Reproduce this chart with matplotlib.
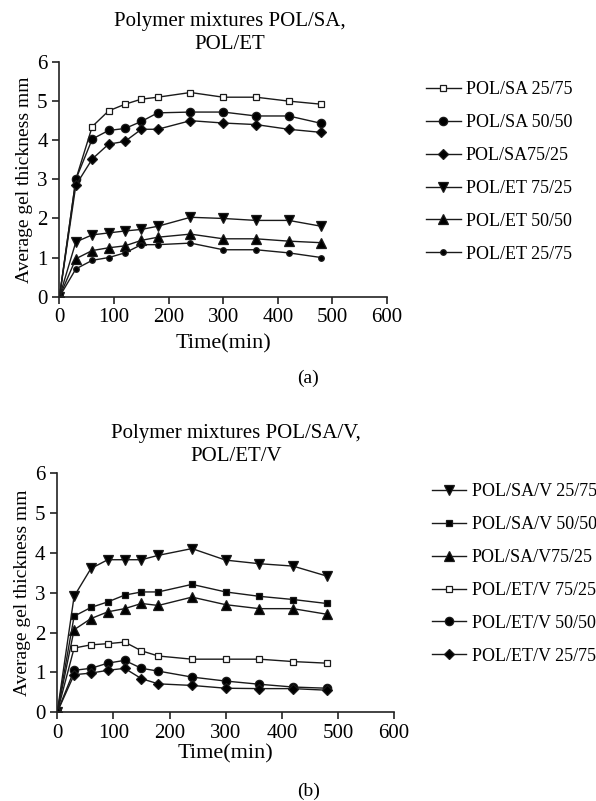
import matplotlib
matplotlib.use("Agg")
import matplotlib.pyplot as plt

plt.rcParams['font.family'] = ['Liberation Serif', 'DejaVu Serif']

time = [0, 30, 60, 90, 120, 150, 180, 240, 300, 360, 420, 480]

# (a) POL/SA, POL/ET
labels_a = ["POL/SA 25/75", "POL/SA 50/50", "POL/SA75/25",
            "POL/ET 75/25", "POL/ET 50/50", "POL/ET 25/75"]
sa_25_75 = [0, 3.0, 4.35, 4.75, 4.92, 5.05, 5.1, 5.22, 5.1, 5.1, 5.0, 4.92]
sa_50_50 = [0, 3.0, 4.03, 4.25, 4.3, 4.48, 4.7, 4.72, 4.72, 4.62, 4.62, 4.43]
sa_75_25 = [0, 2.85, 3.52, 3.9, 3.97, 4.28, 4.28, 4.5, 4.44, 4.4, 4.28, 4.2]
et_75_25 = [0, 1.4, 1.58, 1.63, 1.68, 1.72, 1.8, 2.03, 2.0, 1.95, 1.95, 1.8]
et_50_50 = [0, 0.97, 1.18, 1.25, 1.3, 1.44, 1.52, 1.6, 1.48, 1.48, 1.42, 1.38]
et_25_75 = [0, 0.71, 0.93, 1.0, 1.12, 1.33, 1.33, 1.37, 1.2, 1.2, 1.12, 1.0]

# (b) POL/SA/V, POL/ET/V
labels_b = ["POL/SA/V 25/75", "POL/SA/V 50/50", "POL/SA/V75/25",
            "POL/ET/V 75/25", "POL/ET/V 50/50", "POL/ET/V 25/75"]
sav_25_75 = [0, 2.91, 3.61, 3.83, 3.83, 3.83, 3.94, 4.11, 3.82, 3.73, 3.67, 3.42]
sav_50_50 = [0, 2.41, 2.63, 2.77, 2.94, 3.02, 3.02, 3.21, 3.02, 2.91, 2.83, 2.73]
sav_75_25 = [0, 2.07, 2.35, 2.52, 2.6, 2.73, 2.68, 2.89, 2.7, 2.6, 2.6, 2.46]
etv_75_25 = [0, 1.61, 1.69, 1.72, 1.76, 1.54, 1.41, 1.33, 1.33, 1.33, 1.27, 1.23]
etv_50_50 = [0, 1.05, 1.1, 1.23, 1.3, 1.1, 1.03, 0.88, 0.78, 0.7, 0.63, 0.6]
etv_25_75 = [0, 0.94, 0.98, 1.05, 1.1, 0.84, 0.71, 0.67, 0.6, 0.59, 0.59, 0.55]

data_a = [sa_25_75, sa_50_50, sa_75_25, et_75_25, et_50_50, et_25_75]
data_b = [sav_25_75, sav_50_50, sav_75_25, etv_75_25, etv_50_50, etv_25_75]

# marker, size, fill
style_a = [('s', 4, 'white'), ('o', 6, 'k'), ('D', 5, 'k'),
           ('v', 7, 'k'), ('^', 7, 'k'), ('o', 4, 'k')]
style_b = [('v', 7, 'k'), ('s', 4, 'k'), ('^', 7, 'k'),
           ('s', 4, 'white'), ('o', 6, 'k'), ('D', 5, 'k')]

fig = plt.figure(figsize=(5.96, 8.01), dpi=100)
ax1 = fig.add_axes([0.0998, 0.6296, 0.5495, 0.293])
ax2 = fig.add_axes([0.0961, 0.111, 0.565, 0.298])


def draw(ax, data, labels, styles, title, title_x, xpad, legend_pos, tag, tag_y):
    handles = []
    for vals, lab, (m, ms, fc) in zip(data, labels, styles):
        h, = ax.plot(time, vals, color='#1a1a1a', lw=1.0, marker=m,
                     markersize=ms, markerfacecolor=fc,
                     markeredgecolor='#1a1a1a', markeredgewidth=0.9, label=lab)
        handles.append(h)
    ax.set_xlim(0, 600)
    ax.set_ylim(0, 6)
    ax.set_xticks(range(0, 601, 100))
    ax.set_yticks(range(0, 7))
    for s in ('top', 'right'):
        ax.spines[s].set_visible(False)
    for s in ('left', 'bottom'):
        ax.spines[s].set_linewidth(1.2)
        ax.spines[s].set_color('#222222')
    ax.tick_params(labelsize=15, length=5, width=1.2, color='#222222')
    ax.set_xlabel('Time(min)', fontsize=16, labelpad=xpad)
    ax.set_ylabel('Average gel thickness mm', fontsize=14, labelpad=3)
    ax.set_title(title, fontsize=15, pad=9, x=title_x, linespacing=1.3)
    fig.legend(handles=handles, loc='upper left', bbox_to_anchor=legend_pos,
               frameon=False, fontsize=13, handlelength=1.9,
               handletextpad=0.3, labelspacing=0.88, borderaxespad=0)
    fig.text(0.517, tag_y, tag, fontsize=14, ha='center', va='center')


draw(ax1, data_a, labels_a, style_a, 'Polymer mixtures POL/SA,\nPOL/ET', 0.52, 5,
     (0.703, 1 - 74 / 801), '(a)', 1 - 378 / 801)
draw(ax2, data_b, labels_b, style_b, 'Polymer mixtures POL/SA/V,\nPOL/ET/V', 0.53, 1,
     (0.713, 1 - 476 / 801), '(b)', 1 - 791 / 801)

fig.savefig('out.png', dpi=100, facecolor='white')
